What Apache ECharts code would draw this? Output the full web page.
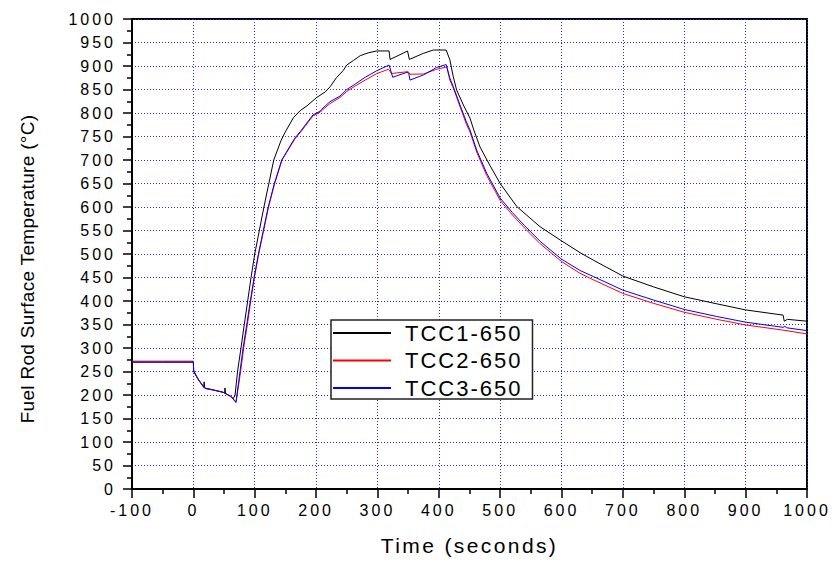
<!DOCTYPE html>
<html>
<head>
<meta charset="utf-8">
<script src="https://cdn.jsdelivr.net/npm/echarts@6/dist/echarts.min.js"></script>
<style>
html,body{margin:0;padding:0;background:#fff;}
#chart{width:832px;height:563px;}
</style>
</head>
<body>
<div id="chart"></div>
<script>
// ---- data ----
const seriesNames = ['TCC1-650', 'TCC2-650', 'TCC3-650'];
const xTickLabels = ['-100','0','100','200','300','400','500','600','700','800','900','1000'];
const yTickLabels = ['0','50','100','150','200','250','300','350','400','450','500','550','600','650','700','750','800','850','900','950','1000'];

const tcc1Time = [-100, -50, 0, 0.5, 8, 17, 17.5, 18.5, 32, 48, 51, 51.5, 52.5, 60, 65, 68, 72, 77.6, 83, 88.5, 94, 100, 107.5, 115, 123, 131, 143, 150, 163, 174, 185, 201, 215, 223, 233, 244, 250, 261, 272, 285, 299, 319, 320.5, 335, 349, 352, 375, 391, 412, 418, 423.6, 429, 440, 450.8, 457, 467, 483, 500, 527, 565, 597.5, 630, 651.7, 700, 750, 800, 853, 900, 961, 963, 968, 1000];
const tcc1Temp = [270, 270, 270, 252, 233, 216, 228, 215, 211, 206, 204, 215, 203, 198, 192, 200, 250, 300, 350, 400, 450, 500, 550, 600, 650, 700, 742, 760, 790, 805, 815, 833, 845, 856, 875, 890, 902, 912, 922, 928, 932, 932, 914, 923, 932, 914, 927, 934, 934, 913, 877, 849, 817, 789, 764, 728, 689, 650, 601, 558, 530, 503, 487, 453, 430, 409, 394, 381, 370, 357, 361, 357];

const tcc2Time = [-100, -50, 0, 0.5, 8, 19, 32.5, 48.7, 54, 62, 69.6, 77, 82, 88, 93.5, 99.5, 106.5, 114.5, 122.5, 132.5, 144.5, 165, 174, 195, 207, 209, 222.6, 239, 250, 262, 280, 299, 318, 323, 350, 353, 375, 396.5, 413, 418, 424, 435, 445, 451, 462, 478, 500, 520, 540, 565, 600, 630, 652, 700, 750, 800, 853, 900, 961, 1000];
const tcc2Temp = [272, 272, 272, 250, 233, 214, 210.6, 205.7, 202, 196, 185, 250, 300, 350, 400, 450, 500, 550, 600, 650, 700, 744, 758, 794, 802, 805, 820, 833, 846, 856, 870, 884, 893, 884, 888, 882.5, 883, 893, 898, 870, 852, 812, 776, 759, 716, 667, 614, 583, 555, 522, 484, 459, 445, 416, 395, 376, 361, 349, 338, 330];

const tcc3Time = [-100, -50, 0, 0.5, 8, 19, 32.5, 48.7, 54, 62, 69.4, 76, 81, 87, 92.8, 99, 106, 114, 122, 132, 144, 165, 174, 195, 207, 209, 222.6, 239, 250, 262, 280, 299, 319, 324.8, 348, 351, 353, 375, 396.5, 412, 418, 423.6, 434.5, 445, 450.8, 461.7, 478, 500, 520, 540, 565, 600, 630, 652, 700, 750, 800, 853, 900, 961, 964, 967, 1000];
const tcc3Temp = [270, 270, 270, 250, 233, 214, 210.6, 205.7, 202, 196, 184, 250, 300, 350, 400, 450, 500, 550, 600, 650, 700, 746, 760, 796, 804, 808, 824, 836, 850, 860, 876, 890, 902, 876, 886.5, 885, 870, 881, 897, 903, 874, 856, 817, 781, 764, 721, 672, 619, 588, 560, 527, 489, 465, 452, 423, 402, 382, 367, 355, 344, 346, 343, 337];

const seriesColors = ['#000000', '#ff0000', '#0000ff'];

function pairs(t, v) { return t.map((x, i) => [x, v[i]]); }
const seriesData = [pairs(tcc1Time, tcc1Temp), pairs(tcc2Time, tcc2Temp), pairs(tcc3Time, tcc3Temp)];

const FONT = '"Liberation Sans", Arial, sans-serif';
const chart = echarts.init(document.getElementById('chart'), null, { renderer: 'svg' });

const gridLine = { show: true, lineStyle: { color: '#2a2aff', width: 1, type: [1, 2] } };

chart.setOption({
  animation: false,
  backgroundColor: '#fff',
  grid: { left: 132, right: 25, top: 19, bottom: 74, show: true, borderColor: '#000', borderWidth: 2, backgroundColor: 'transparent', containLabel: false },
  legend: {
    left: 331, top: 320, orient: 'vertical',
    padding: [2, 26, 0, 2],
    icon: 'rect',
    itemWidth: 58, itemHeight: 2, itemGap: 5.5,
    backgroundColor: '#fff', borderColor: '#222', borderWidth: 1.5, borderRadius: 0,
    textStyle: { fontFamily: FONT, fontSize: 22, color: '#000', padding: [0, 0, 0, 9] },
    data: seriesNames
  },
  xAxis: {
    type: 'value', min: -100, max: 1000, interval: 100,
    name: 'Time (seconds)', nameLocation: 'middle', nameGap: 46,
    nameTextStyle: { fontFamily: FONT, fontSize: 21, color: '#000' },
    axisLine: { show: true, onZero: false, lineStyle: { color: '#000', width: 2 } },
    axisTick: { show: true, inside: false, length: 9, lineStyle: { color: '#000', width: 1.5 } },
    minorTick: { show: true, splitNumber: 2, length: 5, lineStyle: { color: '#000', width: 1.5 } },
    axisLabel: { fontFamily: FONT, fontSize: 16, color: '#000', margin: 13, formatter: (v) => xTickLabels[Math.round((v + 100) / 100)] },
    splitLine: gridLine
  },
  yAxis: {
    type: 'value', min: 0, max: 1000, interval: 50,
    name: 'Fuel Rod Surface Temperature (°C)', nameLocation: 'middle', nameGap: 95,
    nameTextStyle: { fontFamily: FONT, fontSize: 19, color: '#000', padding: [0, 30, 0, 0] },
    axisLine: { show: true, onZero: false, lineStyle: { color: '#000', width: 2 } },
    axisTick: { show: true, inside: false, length: 9, lineStyle: { color: '#000', width: 1.5 } },
    minorTick: { show: true, splitNumber: 2, length: 5, lineStyle: { color: '#000', width: 1.5 } },
    axisLabel: { fontFamily: FONT, fontSize: 16, color: '#000', margin: 16, formatter: (v) => yTickLabels[Math.round(v / 50)] },
    splitLine: gridLine
  },
  series: seriesNames.map((n, i) => ({
    name: n, type: 'line', data: seriesData[i], showSymbol: false, symbol: 'none',
    smooth: false, color: seriesColors[i],
    lineStyle: { color: seriesColors[i], width: 1 }
  }))
});

// widen letter spacing as in the reference typography
const spacingBySize = { 16: 3, 19: 0.3, 21: 2.4, 22: 2 };
document.querySelectorAll('#chart text').forEach(t => {
  const fs = Math.round(parseFloat(getComputedStyle(t).fontSize));
  if (spacingBySize[fs] !== undefined) t.style.letterSpacing = spacingBySize[fs] + 'px';
});
</script>
</body>
</html>
